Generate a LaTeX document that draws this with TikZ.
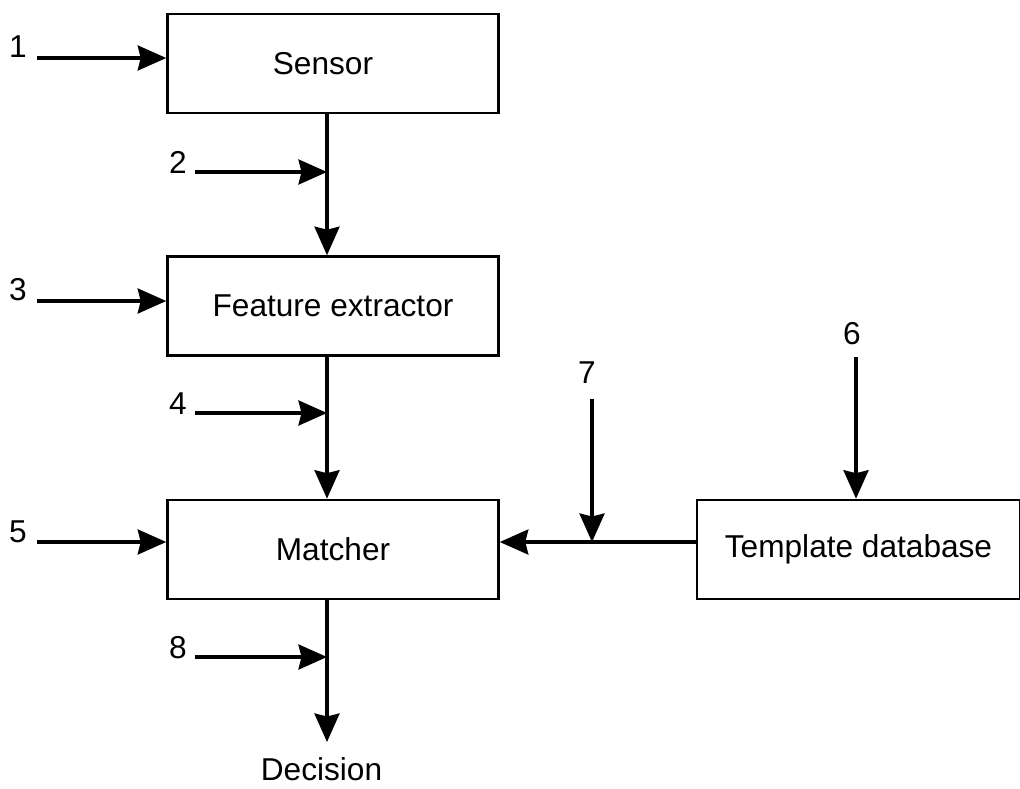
\documentclass[tikz,border=0pt]{standalone}
\usepackage{fontspec}
\setmainfont{Liberation Sans}
\usetikzlibrary{arrows.meta,positioning}
\tikzset{
  block/.style={draw, line width=1.5pt, minimum width=6.62cm, minimum height=1.98cm,
    inner sep=0pt, font=\fontsize{18}{21}\selectfont},
  flow/.style={line width=1.9pt, -{Stealth[length=0.57cm,width=0.5cm,inset=0.06cm]}},
  wire/.style={line width=1.9pt},
  num/.style={inner sep=0pt, font=\fontsize{18}{21}\selectfont},
}

\begin{document}
\begin{tikzpicture}[x=0.02cm,y=-0.02cm]
  \useasboundingbox (0,0) rectangle (1020,788);
  % Blocks
  \node[block] (sensor) at (333,63.5) {Sensor\kern0.4cm};
  \node[block] (feat) at (333,306) {Feature extractor};
  \node[block] (match) at (333,549.5) {Matcher};
  \node[block, minimum width=6.46cm] (tmpl) at (858.5,549.5) {Template database};
  \node[num] (dec) at (321.5,769) {Decision};
  % Points on the main column
  \coordinate (j2) at (327,172);
  \coordinate (j4) at (327,413);
  \coordinate (j8) at (327,657);
  \coordinate (j7) at (592,542);
  \coordinate (out) at (327,742);
  % Main flow
  \draw[flow] (sensor.south -| j2) -- (feat.north -| j2);
  \draw[flow] (feat.south -| j4) -- (match.north -| j4);
  \draw[flow] (match.south -| j8) -- (out);
  \draw[wire] (tmpl.west |- j7) -- (j7);
  \draw[flow] (j7) -- (match.east |- j7);
  % Attack points
  \coordinate (a1) at (37,58);
  \coordinate (a2) at (195,172);
  \coordinate (a3) at (37,301);
  \coordinate (a4) at (195,413);
  \coordinate (a5) at (37,542);
  \coordinate (a6) at (856,357);
  \coordinate (a7) at (592,399);
  \coordinate (a8) at (195,657);
  \node[num] (n1) at (18,47) {1};
  \node[num] (n2) at (178,162) {2};
  \node[num] (n3) at (18,290) {3};
  \node[num] (n4) at (178,404) {4};
  \node[num] (n5) at (18,532) {5};
  \node[num] (n6) at (852,334) {6};
  \node[num] (n7) at (587,373) {7};
  \node[num] (n8) at (178,648) {8};
  \draw[flow] (a1) -- (sensor.west |- a1);
  \draw[flow] (a2) -- (j2);
  \draw[flow] (a3) -- (feat.west |- a3);
  \draw[flow] (a4) -- (j4);
  \draw[flow] (a5) -- (match.west |- a5);
  \draw[flow] (a6) -- (tmpl.north -| a6);
  \draw[flow] (a7) -- (j7);
  \draw[flow] (a8) -- (j8);
\end{tikzpicture}
\end{document}
